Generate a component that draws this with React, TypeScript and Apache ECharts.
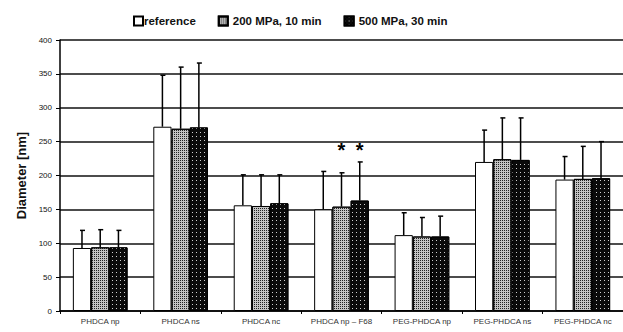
import React, { useEffect, useRef } from "react";
import * as echarts from "echarts";

const categories = [
  "PHDCA np",
  "PHDCA ns",
  "PHDCA nc",
  "PHDCA np – F68",
  "PEG-PHDCA np",
  "PEG-PHDCA ns",
  "PEG-PHDCA nc",
];
const seriesNames = ["reference", "200 MPa, 10 min", "500 MPa, 30 min"];
const refValues = [93, 272, 156, 150, 112, 220, 194];
const mpa200Values = [94, 269, 155, 154, 110, 224, 195];
const mpa500Values = [94, 271, 159, 163, 110, 223, 196];
const refErrTop = [119, 348, 201, 206, 145, 267, 228];
const mpa200ErrTop = [120, 360, 201, 204, 138, 285, 243];
const mpa500ErrTop = [119, 366, 201, 220, 140, 285, 250];
// asterisk marks (value level where the star sits), null = none
const refStars = [null, null, null, null, null, null, null];
const mpa200Stars = [null, null, null, 238, null, null, null];
const mpa500Stars = [null, null, null, 238, null, null, null];
const yTicks = [0, 50, 100, 150, 200, 250, 300, 350, 400];

const FONT = "'Liberation Sans', Arial, sans-serif";
const GAP = 0.32;

export default function App() {
  const ref = useRef<HTMLDivElement>(null);
  useEffect(() => {
    if (!ref.current) return;
    const chart = echarts.init(ref.current, null, { renderer: "svg" });
    const values = [refValues, mpa200Values, mpa500Values];
    const errs = [refErrTop, mpa200ErrTop, mpa500ErrTop];
    const stars = [refStars, mpa200Stars, mpa500Stars];
    const styles = [
      { color: "#ffffff" },
      {
        color: "#c4c4c4",
        decal: {
          symbol: "rect",
          symbolSize: 1,
          color: "#222",
          dashArrayX: [1, 1],
          dashArrayY: [1, 1],
        },
      },
      {
        color: "#0a0a0a",
        decal: {
          symbol: "rect",
          symbolSize: 1,
          color: "#cfcfcf",
          dashArrayX: [1, 3],
          dashArrayY: [1, 3],
        },
      },
    ];
    const barSeries = seriesNames.map((name, i) => ({
      name,
      type: "bar",
      data: values[i],
      barGap: "0%",
      barCategoryGap: GAP * 100 + "%",
      itemStyle: { ...styles[i], borderColor: "#000", borderWidth: 1 },
      z: 2,
    }));
    const errSeries = seriesNames.map((name, i) => ({
      name: name + " err",
      type: "custom",
      z: 5,
      data: categories.map((_, k) => [k, values[i][k], errs[i][k], stars[i][k] ?? -1]),
      encode: { x: 0, y: 1 },
      renderItem: (params: any, api: any) => {
        const x = api.value(0);
        const v = api.value(1);
        const t = api.value(2);
        const s = api.value(3);
        const base = api.coord([x, v]);
        const top = api.coord([x, t]);
        const band = api.size([1, 0])[0];
        const bw = (band * (1 - GAP)) / 3;
        const cx = base[0] + (i - 1) * bw;
        const children: any[] = [
          {
            type: "line",
            shape: { x1: cx, y1: base[1], x2: cx, y2: top[1] },
            style: { stroke: "#000", lineWidth: 1.5 },
          },
          {
            type: "line",
            shape: { x1: cx - 2, y1: top[1], x2: cx + 3, y2: top[1] },
            style: { stroke: "#000", lineWidth: 1.5 },
          },
        ];
        if (s > 0) {
          const sp = api.coord([x, s]);
          children.push({
            type: "text",
            x: cx,
            y: sp[1],
            style: {
              text: "*",
              fontSize: 20,
              fontWeight: "bold",
              fontFamily: FONT,
              fill: "#000",
              align: "center",
              verticalAlign: "middle",
            },
          });
        }
        return { type: "group", children };
      },
    }));
    chart.setOption({
      animation: false,
      textStyle: { fontFamily: FONT },
      legend: {
        data: seriesNames.map((n, i) => ({
          name: n,
          textStyle: i === 0 ? { padding: [0, 0, 0, -4] } : { padding: [0, 0, 0, 0] },
        })),
        top: 10,
        left: 128,
        icon: "rect",
        itemWidth: 9,
        itemHeight: 9,
        itemGap: 22,
        textStyle: { fontSize: 11.5, fontWeight: "bold", color: "#111", fontFamily: FONT },
      },
      grid: { left: 60, right: 0, top: 40, bottom: 21, containLabel: false },
      xAxis: {
        type: "category",
        data: categories,
        axisLine: { lineStyle: { color: "#000", width: 1.5 } },
        axisTick: { show: true, lineStyle: { color: "#000" }, length: 3 },
        axisLabel: { fontSize: 8, color: "#333333", margin: 6, interval: 0 },
      },
      yAxis: {
        type: "value",
        min: 0,
        max: 400,
        interval: 50,
        name: "Diameter [nm]",
        nameLocation: "middle",
        nameGap: 32,
        nameTextStyle: { fontSize: 13, fontWeight: "bold", color: "#111" },
        axisLine: { show: true, lineStyle: { color: "#000", width: 1.5 } },
        axisTick: { show: true, inside: false, length: 4, lineStyle: { color: "#000" } },
        axisLabel: {
          fontSize: 8,
          color: "#111",
          margin: 8,
          formatter: (v: number) => (yTicks.includes(v) ? String(v) : ""),
        },
        splitLine: { show: true, lineStyle: { color: "#111", width: 1.5 } },
      },
      series: [...barSeries, ...errSeries],
    });
    return () => chart.dispose();
  }, []);
  return <div ref={ref} style={{ width: 623, height: 332, position: "absolute", left: 0, top: 0 }} />;
}
